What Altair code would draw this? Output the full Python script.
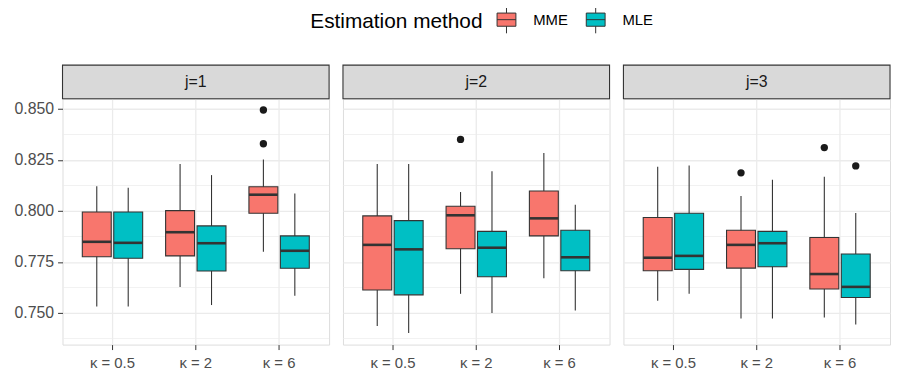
import altair as alt
import pandas as pd

# ---------------- data ----------------
panels = ["j=1", "j=2", "j=3"]
kappas = ["κ = 0.5", "κ = 2", "κ = 6"]
methods = ["MME", "MLE"]
colors = ["#F8766D", "#00BFC4"]

# order: panel -> kappa -> method (MME, MLE)
low = [0.7532, 0.7532, 0.7628, 0.7539, 0.7800, 0.7585,
       0.7436, 0.7402, 0.7594, 0.7500, 0.7670, 0.7512,
       0.7560, 0.7594, 0.7473, 0.7473, 0.7478, 0.7444]
q1 = [0.7776, 0.7768, 0.7780, 0.7706, 0.7989, 0.7719,
      0.7613, 0.7589, 0.7815, 0.7678, 0.7878, 0.7707,
      0.7707, 0.7714, 0.7720, 0.7727, 0.7618, 0.7576]
med = [0.7849, 0.7844, 0.7896, 0.7842, 0.8080, 0.7805,
       0.7834, 0.7812, 0.7979, 0.7820, 0.7964, 0.7773,
       0.7771, 0.7780, 0.7834, 0.7842, 0.7691, 0.7628]
q3 = [0.7995, 0.7995, 0.8002, 0.7927, 0.8119, 0.7878,
      0.7976, 0.7953, 0.8023, 0.7900, 0.8098, 0.7906,
      0.7968, 0.7989, 0.7906, 0.7900, 0.7870, 0.7789]
high = [0.8122, 0.8114, 0.8231, 0.8176, 0.8252, 0.8086,
        0.8231, 0.8231, 0.8093, 0.8195, 0.8285, 0.8031,
        0.8217, 0.8223, 0.8073, 0.8153, 0.8168, 0.7990]

out_panel = ["j=1", "j=1", "j=2", "j=3", "j=3", "j=3"]
out_kappa = ["κ = 6", "κ = 6", "κ = 2", "κ = 2", "κ = 6", "κ = 6"]
out_method = ["MME", "MME", "MME", "MME", "MME", "MLE"]
out_value = [0.8495, 0.8330, 0.8351, 0.8187, 0.8311, 0.8221]

y_ticks = [0.750, 0.775, 0.800, 0.825, 0.850]
minor_grid = [0.7375, 0.7625, 0.7875, 0.8125, 0.8375]
y_domain = [0.7345, 0.855]

# ---------------- tables ----------------
rows = []
i = 0
for p in panels:
    for k in kappas:
        for m in methods:
            rows.append(dict(panel=p, kappa=k, method=m, low=low[i], q1=q1[i],
                             med=med[i], q3=q3[i], high=high[i]))
            i += 1
box_df = pd.DataFrame(rows)
out_df = pd.DataFrame(dict(panel=out_panel, kappa=out_kappa, method=out_method, value=out_value))
minor_df = pd.DataFrame(dict(v=minor_grid))

W, H, STRIP = 269, 248, 34
GRID = "#EBEBEB"
DARK = "#333333"
FONT = "Liberation Sans"

box_path = "M-1,-0.7H1V0.7H-1Z M-1,0H1 M0,-0.7V-1.45 M0,0.7V1.45"

legend = alt.Legend(
    title="Estimation method", orient="none", legendX=250, legendY=-90,
    direction="horizontal", titleOrient="left", titleFontSize=21,
    titleFontWeight="normal", titleColor="#000000", titleFont=FONT,
    titlePadding=14, labelFontSize=15, labelColor="#000000", labelFont=FONT,
    symbolType=box_path, symbolSize=361, symbolStrokeColor=DARK,
    symbolStrokeWidth=1, symbolOpacity=1, labelOffset=17, columnPadding=16,
)


def panel(p, first):
    bx = box_df[box_df.panel == p]
    od = out_df[out_df.panel == p]
    x = alt.X("kappa:N", sort=kappas,
              scale=alt.Scale(domain=kappas, paddingInner=0, paddingOuter=0.1),
              axis=alt.Axis(title=None, labelFontSize=15, labelColor="#4D4D4D",
                            labelFont=FONT, tickColor=DARK, tickSize=5, domain=False,
                            grid=True, gridColor=GRID, gridWidth=1.3,
                            bandPosition=0.5, labelPadding=6, labelAngle=0))
    xo = alt.XOffset("method:N", sort=methods,
                     scale=alt.Scale(domain=methods, paddingInner=0.08, paddingOuter=0.365))
    ysc = alt.Scale(domain=y_domain, nice=False, zero=False)
    if first:
        yax = alt.Axis(title=None, values=y_ticks, format=".3f", labelFontSize=16,
                       labelColor="#4D4D4D", labelFont=FONT, tickColor=DARK, tickSize=5,
                       labelPadding=4, domain=False, grid=True, gridColor=GRID,
                       gridWidth=1.3, minExtent=49)
    else:
        yax = alt.Axis(title=None, values=y_ticks, labels=False, ticks=False,
                       domain=False, grid=True, gridColor=GRID, gridWidth=1.3)

    minor = alt.Chart(minor_df).mark_rule(color=GRID, strokeWidth=0.7).encode(
        y=alt.Y("v:Q", scale=ysc, axis=yax))
    base = alt.Chart(bx)
    whisk = base.mark_rule(color=DARK, strokeWidth=1.1).encode(
        x=x, xOffset=xo, y=alt.Y("low:Q", scale=ysc, axis=yax), y2="high:Q")
    boxes = base.mark_bar(stroke=DARK, strokeWidth=1.1, opacity=1).encode(
        x=x, xOffset=xo, y=alt.Y("q1:Q", scale=ysc, axis=yax), y2="q3:Q",
        fill=alt.Fill("method:N", sort=methods,
                      scale=alt.Scale(domain=methods, range=colors), legend=legend))
    medians = base.mark_tick(color=DARK, thickness=2.6, size=29, opacity=1).encode(
        x=x, xOffset=xo, y=alt.Y("med:Q", scale=ysc, axis=yax))
    outs = alt.Chart(od).mark_circle(color="#1A1A1A", size=55, opacity=1).encode(
        x=x, xOffset=xo, y=alt.Y("value:Q", scale=ysc, axis=yax))
    sdf = pd.DataFrame(dict(panel=[p]))
    strip = alt.Chart(sdf).mark_rect(fill="#D9D9D9", stroke=DARK, strokeWidth=1.1).encode(
        x=alt.value(0), x2=alt.value(W), y=alt.value(-STRIP), y2=alt.value(0))
    stext = alt.Chart(sdf).mark_text(fontSize=16, color="#1A1A1A", font=FONT,
                                     baseline="middle", align="center").encode(
        x=alt.value(W / 2), y=alt.value(-STRIP / 2), text="panel:N")
    return alt.layer(minor, whisk, boxes, medians, outs, strip, stext).properties(
        width=W, height=H)


chart = alt.hconcat(*[panel(p, i == 0) for i, p in enumerate(panels)], spacing=10).properties(
    padding={"left": 5, "top": 0, "right": 0, "bottom": 0}
).configure_view(stroke=DARK, strokeWidth=1.1).configure(font=FONT)

chart.save("out.html", embed_options={"renderer": "svg", "actions": False})
